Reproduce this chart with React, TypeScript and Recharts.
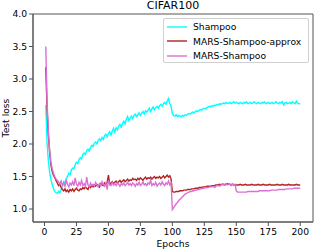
import { LineChart, Line, XAxis, YAxis, ReferenceArea } from 'recharts';

const FONT = '"DejaVu Sans", sans-serif';

const X_TICKS = [0, 25, 50, 75, 100, 125, 150, 175, 200];
const Y_TICKS = [1.0, 1.5, 2.0, 2.5, 3.0, 3.5, 4.0];

// test loss per epoch, epochs 1..200
const shampoo = [
  2.60, 2.02, 1.74, 1.57, 1.46, 1.38, 1.32, 1.27, 1.25, 1.24,
  1.27, 1.25, 1.30, 1.35, 1.42, 1.40, 1.47, 1.50, 1.55, 1.53,
  1.60, 1.63, 1.62, 1.68, 1.72, 1.70, 1.76, 1.79, 1.77, 1.84,
  1.86, 1.84, 1.90, 1.92, 1.89, 1.95, 1.98, 1.96, 2.01, 2.03,
  2.00, 2.06, 2.08, 2.05, 2.10, 2.07, 2.13, 2.15, 2.11, 2.16,
  2.19, 2.14, 2.20, 2.24, 2.18, 2.25, 2.22, 2.28, 2.30, 2.26,
  2.32, 2.35, 2.31, 2.38, 2.42, 2.36, 2.40, 2.43, 2.39, 2.44,
  2.46, 2.42, 2.45, 2.48, 2.44, 2.47, 2.50, 2.46, 2.51, 2.49,
  2.52, 2.55, 2.50, 2.54, 2.57, 2.53, 2.56, 2.58, 2.55, 2.59,
  2.61, 2.58, 2.62, 2.64, 2.61, 2.66, 2.70, 2.62, 2.58, 2.47,
  2.44, 2.43, 2.45, 2.42, 2.44, 2.43, 2.42, 2.44, 2.43, 2.45,
  2.44, 2.46, 2.47, 2.46, 2.48, 2.49, 2.48, 2.50, 2.51, 2.50,
  2.52, 2.53, 2.52, 2.54, 2.55, 2.54, 2.56, 2.57, 2.58, 2.57,
  2.59, 2.58, 2.60, 2.59, 2.61, 2.60, 2.62, 2.61, 2.62, 2.63,
  2.62, 2.64, 2.62, 2.63, 2.64, 2.62, 2.63, 2.65, 2.63, 2.64,
  2.63, 2.62, 2.64, 2.63, 2.62, 2.64, 2.63, 2.65, 2.62, 2.63,
  2.64, 2.62, 2.63, 2.65, 2.63, 2.62, 2.64, 2.63, 2.62, 2.64,
  2.63, 2.65, 2.62, 2.63, 2.64, 2.62, 2.63, 2.64, 2.62, 2.63,
  2.65, 2.63, 2.62, 2.64, 2.63, 2.65, 2.60, 2.63, 2.64, 2.62,
  2.63, 2.64, 2.62, 2.65, 2.63, 2.62, 2.66, 2.63, 2.62, 2.62,
];

const marsApprox = [
  3.18, 2.55, 2.15, 1.88, 1.68, 1.58, 1.52, 1.48, 1.44, 1.40,
  1.36, 1.38, 1.33, 1.30, 1.28, 1.31, 1.27, 1.29, 1.26, 1.30,
  1.28, 1.31, 1.27, 1.30, 1.32, 1.29, 1.28, 1.31, 1.30, 1.33,
  1.31, 1.34, 1.32, 1.30, 1.35, 1.33, 1.36, 1.34, 1.37, 1.35,
  1.38, 1.36, 1.34, 1.39, 1.37, 1.36, 1.40, 1.38, 1.41, 1.52,
  1.38, 1.40, 1.42, 1.39, 1.41, 1.43, 1.40, 1.42, 1.44, 1.41,
  1.43, 1.45, 1.42, 1.44, 1.46, 1.43, 1.45, 1.44, 1.47, 1.45,
  1.46, 1.44, 1.47, 1.45, 1.48, 1.46, 1.44, 1.47, 1.49, 1.46,
  1.48, 1.47, 1.49, 1.46, 1.48, 1.50, 1.47, 1.49, 1.48, 1.50,
  1.47, 1.49, 1.51, 1.48, 1.50, 1.52, 1.49, 1.51, 1.46, 1.27,
  1.26, 1.26, 1.27, 1.27, 1.27, 1.28, 1.28, 1.28, 1.29, 1.29,
  1.29, 1.30, 1.30, 1.30, 1.31, 1.31, 1.31, 1.32, 1.32, 1.32,
  1.33, 1.33, 1.33, 1.34, 1.34, 1.34, 1.35, 1.35, 1.35, 1.35,
  1.36, 1.36, 1.36, 1.37, 1.37, 1.37, 1.38, 1.37, 1.38, 1.38,
  1.37, 1.38, 1.39, 1.38, 1.38, 1.37, 1.38, 1.37, 1.37, 1.37,
  1.37, 1.37, 1.38, 1.37, 1.37, 1.37, 1.38, 1.37, 1.37, 1.37,
  1.37, 1.38, 1.37, 1.37, 1.37, 1.37, 1.38, 1.37, 1.37, 1.37,
  1.38, 1.37, 1.37, 1.37, 1.37, 1.38, 1.37, 1.37, 1.37, 1.37,
  1.37, 1.38, 1.37, 1.37, 1.37, 1.38, 1.37, 1.37, 1.37, 1.37,
  1.38, 1.37, 1.37, 1.37, 1.37, 1.37, 1.38, 1.37, 1.37, 1.37,
];

const marsShampoo = [
  3.50, 2.65, 2.20, 1.90, 1.72, 1.62, 1.55, 1.50, 1.46, 1.44,
  1.42, 1.38, 1.43, 1.36, 1.40, 1.35, 1.45, 1.38, 1.34, 1.40,
  1.37, 1.42, 1.36, 1.48, 1.38, 1.35, 1.41, 1.37, 1.44, 1.36,
  1.39, 1.35, 1.49, 1.37, 1.34, 1.40, 1.36, 1.38, 1.35, 1.41,
  1.37, 1.34, 1.39, 1.36, 1.42, 1.38, 1.35, 1.40, 1.30, 1.44,
  1.38, 1.36, 1.41, 1.37, 1.39, 1.36, 1.40, 1.38, 1.35, 1.39,
  1.37, 1.40, 1.36, 1.38, 1.41, 1.37, 1.39, 1.36, 1.40, 1.38,
  1.35, 1.39, 1.37, 1.41, 1.36, 1.38, 1.42, 1.37, 1.39, 1.36,
  1.40, 1.38, 1.44, 1.36, 1.39, 1.37, 1.41, 1.35, 1.38, 1.40,
  1.37, 1.42, 1.38, 1.36, 1.40, 1.38, 1.43, 1.37, 1.40, 0.99,
  1.02, 1.05, 1.08, 1.10, 1.13, 1.15, 1.17, 1.19, 1.21, 1.23,
  1.24, 1.25, 1.26, 1.27, 1.27, 1.28, 1.28, 1.29, 1.29, 1.30,
  1.30, 1.31, 1.31, 1.32, 1.32, 1.33, 1.33, 1.33, 1.34, 1.34,
  1.34, 1.35, 1.33, 1.35, 1.36, 1.36, 1.35, 1.37, 1.38, 1.37,
  1.38, 1.39, 1.37, 1.39, 1.38, 1.36, 1.39, 1.37, 1.38, 1.28,
  1.26, 1.26, 1.26, 1.26, 1.26, 1.26, 1.26, 1.26, 1.27, 1.27,
  1.27, 1.27, 1.27, 1.27, 1.27, 1.27, 1.27, 1.28, 1.28, 1.28,
  1.28, 1.28, 1.28, 1.28, 1.28, 1.28, 1.29, 1.29, 1.29, 1.29,
  1.29, 1.29, 1.30, 1.30, 1.30, 1.30, 1.30, 1.30, 1.31, 1.31,
  1.31, 1.31, 1.31, 1.31, 1.32, 1.32, 1.32, 1.32, 1.32, 1.32,
];

const SERIES = [
  { key: 'shampoo', name: 'Shampoo', color: '#00ffff' },
  { key: 'marsApprox', name: 'MARS-Shampoo-approx', color: '#b22222' },
  { key: 'marsShampoo', name: 'MARS-Shampoo', color: '#da70d6' },
];

const data = shampoo.map((v, i) => ({
  epoch: i + 1,
  shampoo: v,
  marsApprox: marsApprox[i],
  marsShampoo: marsShampoo[i],
}));

const TICK = { fill: '#000', fontSize: 9.2, fontFamily: FONT };
const SPINE = '#555';

export default function App() {
  return (
    <div style={{ position: 'absolute', left: 0, top: 0, width: 314, height: 250, background: '#fff', fontFamily: FONT }}>
      <LineChart width={314} height={250} data={data} margin={{ top: 14, right: 1, bottom: 0, left: 0 }}>
        <XAxis
          dataKey="epoch"
          type="number"
          domain={[-9, 210]}
          ticks={X_TICKS}
          allowDataOverflow
          height={28}
          tick={TICK}
          tickSize={4}
          tickMargin={2}
          axisLine={{ stroke: SPINE }}
          tickLine={{ stroke: SPINE }}
        />
        <YAxis
          type="number"
          domain={[0.8, 4.0]}
          ticks={Y_TICKS}
          allowDataOverflow
          width={33}
          tick={TICK}
          tickSize={4}
          tickMargin={2}
          tickFormatter={(v: number) => v.toFixed(1)}
          axisLine={{ stroke: SPINE }}
          tickLine={{ stroke: SPINE }}
        />
        <ReferenceArea x1={-9} x2={210} y1={0.8} y2={4.0} fill="none" stroke={SPINE} strokeWidth={1} />
        {SERIES.map(s => (
          <Line
            key={s.key}
            dataKey={s.key}
            name={s.name}
            type="linear"
            stroke={s.color}
            strokeWidth={1.4}
            dot={false}
            isAnimationActive={false}
          />
        ))}
      </LineChart>

      <div style={{ position: 'absolute', left: 33, width: 280, top: 0, textAlign: 'center', fontSize: 11, lineHeight: '12px' }}>
        CIFAR100
      </div>
      <div style={{ position: 'absolute', left: 33, width: 280, top: 238, textAlign: 'center', fontSize: 9.2, lineHeight: '11px' }}>
        Epochs
      </div>
      <div
        style={{
          position: 'absolute',
          left: 5,
          top: 118,
          fontSize: 9.2,
          lineHeight: '11px',
          whiteSpace: 'nowrap',
          transform: 'translate(-50%, -50%) rotate(-90deg)',
        }}
      >
        Test loss
      </div>

      <div
        style={{
          position: 'absolute',
          left: 163,
          top: 18,
          width: 144,
          height: 43,
          border: '1px solid #d0d0d0',
          borderRadius: 2,
          background: 'rgba(255,255,255,0.8)',
        }}
      >
        {SERIES.map((s, i) => (
          <div key={s.key} style={{ position: 'absolute', left: 3, top: 1 + i * 14.5, height: 13, display: 'flex', alignItems: 'center', fontSize: 9.2, whiteSpace: 'nowrap' }}>
            <svg width={20} height={4} style={{ marginRight: 6 }}>
              <line x1={0} y1={2} x2={20} y2={2} stroke={s.color} strokeWidth={1.4} />
            </svg>
            <span>{s.name}</span>
          </div>
        ))}
      </div>
    </div>
  );
}
